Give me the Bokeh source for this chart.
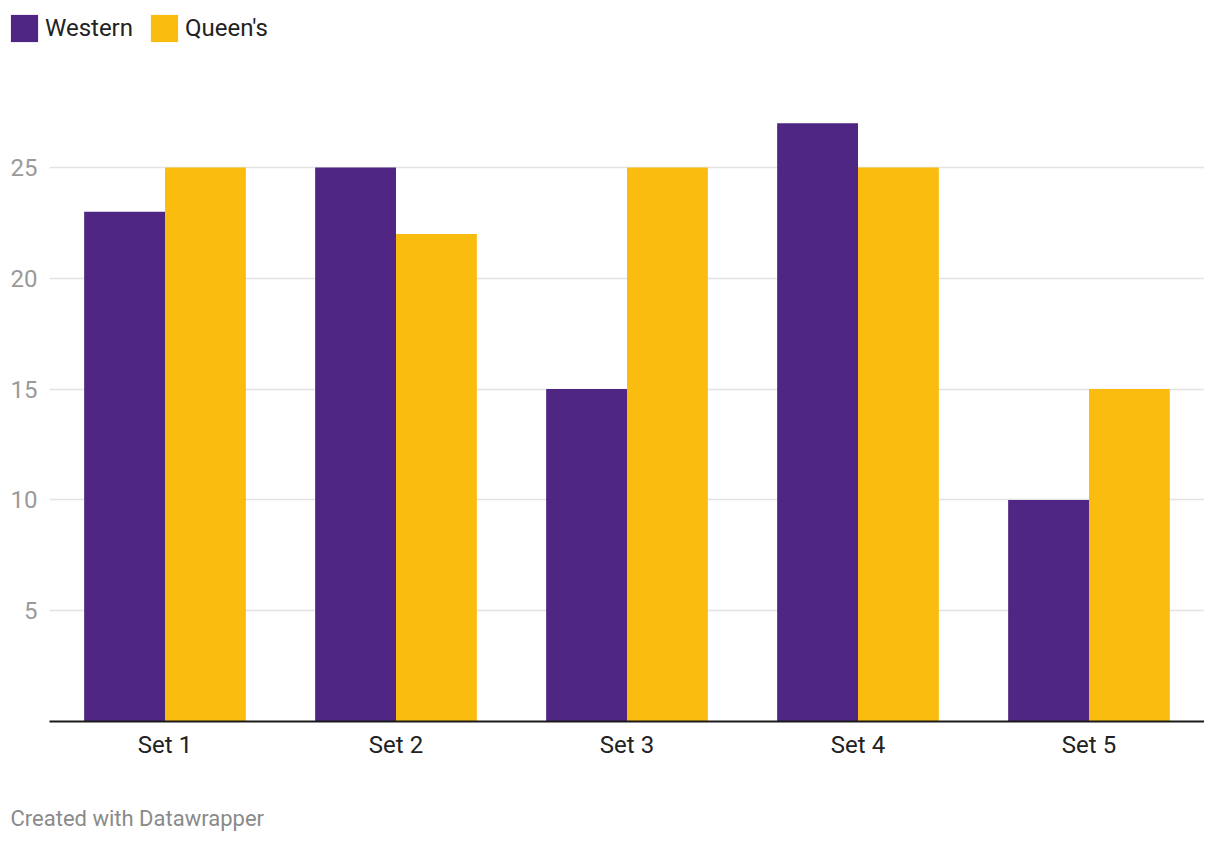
from bokeh.plotting import figure
from bokeh.layouts import column
from bokeh.models import (ColumnDataSource, FactorRange, Range1d, FixedTicker,
                          Legend, LegendItem, Label)
from bokeh.transform import dodge
from bokeh.embed import file_html
from bokeh.resources import INLINE

# ---- data ----
categories = ["Set 1", "Set 2", "Set 3", "Set 4", "Set 5"]
western = [23, 25, 15, 27, 10]
queens = [25, 22, 25, 25, 15]
y_ticks = [5, 10, 15, 20, 25]
series_names = ["Western", "Queen's"]
footer_text = "Created with Datawrapper"

PURPLE = "#4f2683"
YELLOW = "#fabd0f"
FONT = "Roboto"

W = 1204
LEG_H = 50
MAIN_H = 730
FOOT_H = 56
FRAME_H = 671                          # frame bottom = baseline of bars
PX_PER_UNIT = 22.16


def bare(h):
    f = figure(width=W, height=h, x_range=Range1d(0, W), y_range=Range1d(h, 0),
               output_backend="svg", toolbar_location=None, tools="",
               min_border=0, x_axis_type=None, y_axis_type=None, title=None,
               frame_align=False)
    f.outline_line_color = None
    f.grid.visible = False
    return f


# ---- legend strip ----
leg = bare(LEG_H)
# swatch renderers (one point kept outside the visible range)
d1 = leg.vbar(x=[-500], top=[-500], width=1, fill_color=PURPLE, line_color=None)
d2 = leg.vbar(x=[-500], top=[-500], width=1, fill_color=YELLOW, line_color=None)
legend = Legend(
    items=[LegendItem(label=series_names[0], renderers=[d1]),
           LegendItem(label=series_names[1], renderers=[d2])],
    orientation="horizontal",
    location=(7, 5),
    glyph_width=34, glyph_height=34,
    label_text_font=FONT, label_text_font_size="24px", label_text_color="#222222",
    label_standoff=4, spacing=14, padding=0, margin=0,
    border_line_color=None, background_fill_alpha=0,
)
leg.add_layout(legend, "center")

# ---- main chart ----
source = ColumnDataSource(data=dict(cat=categories, western=western, queens=queens))

p = figure(
    width=W, height=MAIN_H,
    x_range=FactorRange(factors=categories, range_padding=0),
    y_range=Range1d(0, FRAME_H / PX_PER_UNIT),
    output_backend="svg", toolbar_location=None, tools="",
    min_border_left=49, min_border_right=0,
    min_border_top=0, min_border_bottom=MAIN_H - FRAME_H,
    title=None, frame_align=False,
)
p.outline_line_color = None

p.vbar(x=dodge("cat", -0.175, range=p.x_range), top="western", width=0.35,
       source=source, fill_color=PURPLE, line_color=None)
p.vbar(x=dodge("cat", 0.175, range=p.x_range), top="queens", width=0.35,
       source=source, fill_color=YELLOW, line_color=None)

p.xaxis.axis_line_color = "#1a1a1a"
p.xaxis.axis_line_width = 2
p.xaxis.major_tick_line_color = None
p.xaxis.minor_tick_line_color = None
p.xaxis.major_label_text_font = FONT
p.xaxis.major_label_text_font_size = "24px"
p.xaxis.major_label_text_color = "#222222"
p.xaxis.major_label_standoff = 3

p.yaxis.ticker = FixedTicker(ticks=y_ticks)
p.yaxis.axis_line_color = None
p.yaxis.major_tick_line_color = None
p.yaxis.minor_tick_line_color = None
p.yaxis.major_label_text_font = FONT
p.yaxis.major_label_text_font_size = "24px"
p.yaxis.major_label_text_color = "#9a9a9a"
p.yaxis.major_label_standoff = 6

p.xgrid.grid_line_color = None
p.ygrid.ticker = FixedTicker(ticks=y_ticks)
p.ygrid.grid_line_color = "#e3e3e3"
p.ygrid.grid_line_width = 1.5

# ---- footer strip ----
foot = bare(FOOT_H)
foot.add_layout(Label(x=10, y=38, text=footer_text, text_font=FONT,
                      text_font_size="22px", text_color="#8a8a8a",
                      text_baseline="middle"))

layout = column(leg, p, foot, spacing=0)
open("out.html", "w").write(file_html(layout, INLINE))
